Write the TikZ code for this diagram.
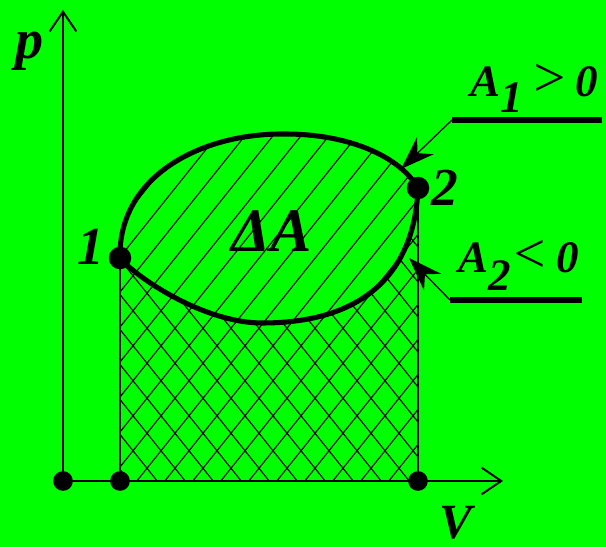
\documentclass[tikz,border=0pt]{standalone}
\usepackage{fontspec}
\setmainfont{Liberation Serif}
\usepackage{tikz}
\usetikzlibrary{arrows.meta}
\definecolor{pvGreen}{HTML}{00FF00}
\definecolor{pvInk}{HTML}{000000}

\begin{document}
\begin{tikzpicture}[
  x=0.025cm, y=0.025cm,
  axis/.style={line width=1.7pt, draw=pvInk, -{Straight Barb[length=14pt, width=19pt, line width=1.4pt]}},
  riser/.style={line width=1.6pt, draw=pvInk},
  cycleline/.style={line width=3.6pt, draw=pvInk},
  hatch/.style={line width=0.8pt, draw=pvInk},
  leader/.style={line width=0.9pt, draw=pvInk, -{Stealth[length=24pt, width=17pt]}},
  bar/.style={line width=4.5pt, draw=pvInk},
  dot/.style={circle, fill=pvInk, inner sep=0pt, minimum size=#1},
  lab/.style={inner sep=0pt, text=pvInk, font=\bfseries\itshape\fontsize{#1}{#1}\selectfont}
]
  \fill[pvGreen] (0,0) rectangle (606,547);
  \useasboundingbox (0,0) rectangle (606,547);

  \coordinate (O)  at (63,66);
  \coordinate (Pt) at (63,537);
  \coordinate (Vt) at (503,66);
  \coordinate (P1) at (120,289);
  \coordinate (P2) at (418,359);
  \coordinate (B1) at (120,66);
  \coordinate (B2) at (418,66);
  \coordinate (T1) at (401,378);
  \coordinate (T2) at (409,289);
  \coordinate (U1a) at (452,427);
  \coordinate (U1b) at (602,427);
  \coordinate (U2a) at (450,247);
  \coordinate (U2b) at (582,247);

  \begin{scope}
    \clip (B1) -- (P1) .. controls (118,370) and (200,414) .. (285,413)
      .. controls (350,413) and (400,390) .. (P2) -- (B2) -- cycle;
    \foreach \k in {-8,...,14}
      \draw[hatch] (\k*28,0) -- ++(400,500);
  \end{scope}
  \begin{scope}
    \clip (B1) -- (P1) .. controls (138,268) and (205,224) .. (262,224)
      .. controls (370,224) and (415,280) .. (P2) -- (B2) -- cycle;
    \foreach \k in {5,...,26}
      \draw[hatch] (\k*28+14,0) -- ++(-400,500);
  \end{scope}

  \draw[axis] (O) -- (Pt);
  \draw[axis] (O) -- (Vt);
  \draw[riser] (P1) -- (B1);
  \draw[riser] (P2) -- (B2);

  \draw[cycleline] (P1) .. controls (118,370) and (200,414) .. (285,413)
    .. controls (350,413) and (400,390) .. (P2);
  \draw[cycleline] (P1) .. controls (138,268) and (205,224) .. (262,224)
    .. controls (370,224) and (415,280) .. (P2);

  \node[dot=14pt] (d0) at (O) {};
  \node[dot=14pt] (d1) at (B1) {};
  \node[dot=14pt] (d2) at (B2) {};
  \node[dot=16pt] (n1) at (P1) {};
  \node[dot=16pt] (n2) at (P2) {};

  \draw[bar] (U1a) -- (U1b);
  \draw[bar] (U2a) -- (U2b);
  \draw[leader] (U1a) -- (T1);
  \draw[leader] (U2a) -- (T2);

  \node[lab=40] (p) at (30,496) {p};
  \node[lab=35, anchor=base] (V) at (456,9) {V};
  \node[lab=38] (l1) at (91,300) {1};
  \node[lab=38] (l2) at (445,359) {2};
  \node[lab=44, anchor=base] (dA) at (272,295) {ΔA};
  \node[lab=32, anchor=base west] (A1) at (470,450) {A\raisebox{-0.35em}{1}\,{\mdseries\fontsize{40}{40}\selectfont >}\,0};
  \node[lab=32, anchor=base west] (A2) at (458,274) {A\raisebox{-0.4em}{2}{\mdseries\fontsize{40}{40}\selectfont <}\,0};
\end{tikzpicture}
\end{document}
